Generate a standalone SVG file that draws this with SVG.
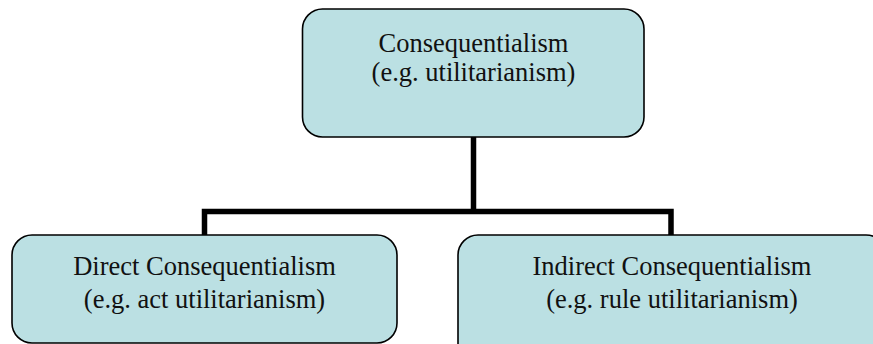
<svg xmlns="http://www.w3.org/2000/svg" width="873" height="344" viewBox="0 0 873 344">
<style>
.box{fill:#BBE0E3;stroke:#000;stroke-width:1.6}
.lbl{font-family:"Liberation Serif","Times New Roman",serif;font-size:26.5px;fill:#111;text-anchor:middle}
.conn{fill:none;stroke:#000;stroke-width:5.5;stroke-linejoin:miter}
</style>
<rect width="873" height="344" fill="#fff"/>
<g id="connectors">
<path class="conn" d="M473.5,137 V211.5"/>
<path class="conn" d="M204.5,235 V211.5 H671 V235"/>
</g>
<g id="node-top">
<rect class="box" x="302.5" y="9" width="341.5" height="128" rx="20" ry="20"/>
<text class="lbl" x="473.5" y="52">Consequentialism</text>
<text class="lbl" x="473.5" y="81">(e.g. utilitarianism)</text>
</g>
<g id="node-direct">
<rect class="box" x="12" y="235" width="385" height="108" rx="20" ry="20"/>
<text class="lbl" x="204.5" y="275">Direct Consequentialism</text>
<text class="lbl" x="204.5" y="308">(e.g. act utilitarianism)</text>
</g>
<g id="node-indirect">
<rect class="box" x="458" y="235" width="428" height="130" rx="20" ry="20"/>
<text class="lbl" x="672" y="275">Indirect Consequentialism</text>
<text class="lbl" x="672" y="308">(e.g. rule utilitarianism)</text>
</g>
</svg>
